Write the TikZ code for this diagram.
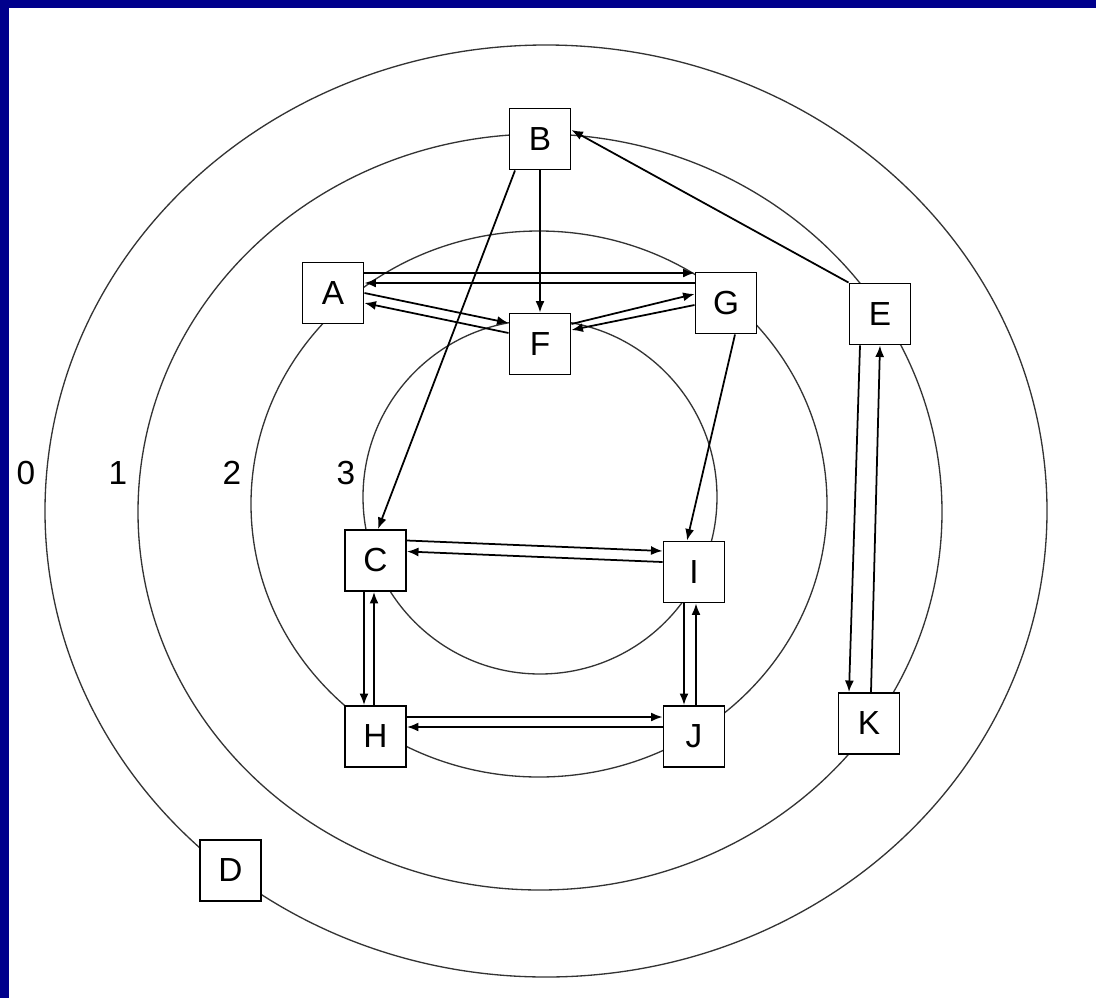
\documentclass[tikz,border=0pt]{standalone}
\usepackage{fontspec}
\setmainfont{Liberation Sans}
\usetikzlibrary{arrows.meta, calc}
\definecolor{slideblue}{RGB}{0,0,140}

\begin{document}
\begin{tikzpicture}[x=0.02cm, y=-0.02cm,
    box/.style={draw, fill=white, line width=1.1pt, minimum width=1.22cm, minimum height=1.22cm, inner sep=0pt, font=\fontsize{19}{22}\selectfont},
    ring/.style={draw=black!80, line width=0.75pt},
    link/.style={line width=1pt, -{Latex[length=2.3mm,width=1.8mm]}},
    level/.style={font=\fontsize{19}{22}\selectfont}]
  % slide frame
  \fill[white] (0,0) rectangle (1096,998);
  \fill[slideblue] (0,0) rectangle (1096,8);
  \fill[slideblue] (0,0) rectangle (9,998);
  \useasboundingbox (0,0) rectangle (1096,998);

  % rings
  \draw[ring] (546,511) ellipse [x radius=501, y radius=466];
  \draw[ring] (540,512) ellipse [x radius=402, y radius=378];
  \draw[ring] (539,504) ellipse [x radius=288, y radius=273];
  \draw[ring] (540,497) ellipse [x radius=177, y radius=177];

  % level labels
  \node[level] (l0) at (26,473) {0};
  \node[level] (l1) at (118,473) {1};
  \node[level] (l2) at (232,473) {2};
  \node[level] (l3) at (346,473) {3};

  % boxes
  \node[box] (B) at (540,139) {B};
  \node[box] (A) at (333,293) {A};
  \node[box] (G) at (726,303) {G};
  \node[box] (F) at (540,344) {F};
  \node[box] (E) at (880,314) {E};
  \node[box] (C) at (375.5,560.5) {C};
  \node[box] (I) at (694,572) {I};
  \node[box] (H) at (375.5,736.5) {H};
  \node[box] (J) at (694,736.5) {J};
  \node[box] (K) at (869,723.5) {K};
  \node[box] (D) at (230.5,870.5) {D};

  % links
  \draw[link] (B.south) -- (F.north);
  \draw[link] ($(B.south)+(-25,0)$) -- ($(C.north)+(2.5,0)$);
  \draw[link] (E.north west) -- ($(B.east)+(0,-9)$);
  \draw[link] ($(A.east)+(0,-20)$) -- ($(G.west)+(0,-30)$);
  \draw[link] ($(G.west)+(0,-20)$) -- ($(A.east)+(0,-10)$);
  \draw[link] (A.east) -- ($(F.west)+(0,-21)$);
  \draw[link] ($(F.west)+(0,-11)$) -- ($(A.east)+(0,10)$);
  \draw[link] ($(F.east)+(0,-20)$) -- ($(G.west)+(0,-9)$);
  \draw[link] ($(G.west)+(0,2)$) -- ($(F.east)+(0,-14)$);
  \draw[link] ($(G.south)+(9,0)$) -- ($(I.north)+(-7,0)$);
  \draw[link] ($(C.east)+(0,-20)$) -- ($(I.west)+(0,-21)$);
  \draw[link] ($(I.west)+(0,-10)$) -- ($(C.east)+(0,-9)$);
  \draw[link] ($(C.south)+(-11.5,0)$) -- ($(H.north)+(-11.5,0)$);
  \draw[link] ($(H.north)+(-1.5,0)$) -- ($(C.south)+(-1.5,0)$);
  \draw[link] ($(I.south)+(-10,0)$) -- ($(J.north)+(-10,0)$);
  \draw[link] ($(J.north)+(2,0)$) -- ($(I.south)+(2,0)$);
  \draw[link] ($(H.east)+(0,-19.5)$) -- ($(J.west)+(0,-19.5)$);
  \draw[link] ($(J.west)+(0,-9.5)$) -- ($(H.east)+(0,-9.5)$);
  \draw[link] ($(E.south)+(-20,0)$) -- ($(K.north)+(-20,0)$);
  \draw[link] ($(K.north)+(2,0)$) -- (E.south);
\end{tikzpicture}
\end{document}
